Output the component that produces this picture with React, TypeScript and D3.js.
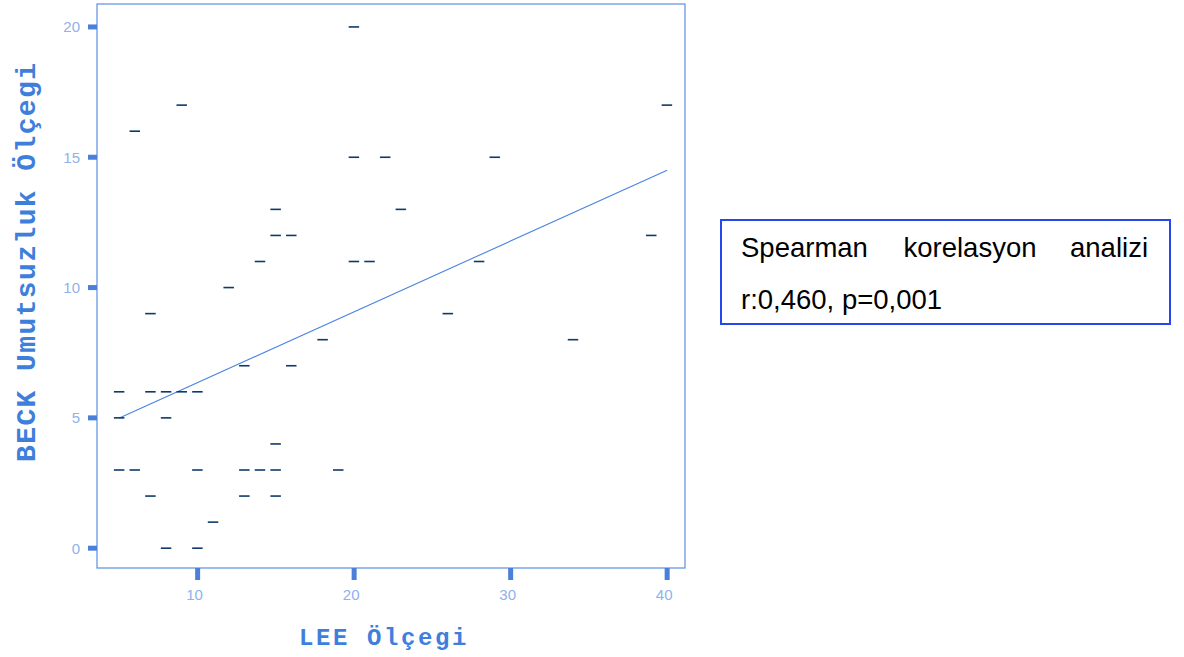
import React from "react";
import * as d3 from "d3";

// LEE Ölçegi (x) vs BECK Umutsuzluk Ölçegi (y)
const leeValues: number[] = [
  5, 5, 5, 6, 6, 7, 7, 7, 8, 8, 8, 9, 9, 10, 10, 10, 11, 12, 13, 13, 13, 14, 14,
  15, 15, 15, 15, 15, 16, 16, 18, 19, 20, 20, 20, 21, 22, 23, 26, 28, 29, 34, 39, 40,
];
const beckValues: number[] = [
  6, 5, 3, 16, 3, 9, 6, 2, 6, 5, 0, 17, 6, 6, 3, 0, 1, 10, 7, 3, 2, 11, 3,
  13, 12, 4, 3, 2, 12, 7, 8, 3, 20, 15, 11, 11, 15, 13, 9, 11, 15, 8, 12, 17,
];
// fitted line end points
const fitX: number[] = [5, 40];
const fitY: number[] = [5.0, 14.5];

const xTicks: number[] = [10, 20, 30, 40];
const yTicks: number[] = [0, 5, 10, 15, 20];

const xTitle = "LEE Ölçegi";
const yTitle = "BECK Umutsuzluk Ölçegi";
const legendLine1: string[] = ["Spearman", "korelasyon", "analizi"];
const legendLine2 = "r:0,460, p=0,001";

export default function App() {
  const W = 1184;
  const H = 657;
  const left = 97, right = 685, top = 4, bottom = 568;
  const x = d3.scaleLinear().domain([3.57, 41.14]).range([left, right]);
  const y = d3.scaleLinear().domain([-0.76, 20.88]).range([bottom, top]);

  const line = d3
    .line<number>()
    .x((_, i) => x(fitX[i]))
    .y((_, i) => y(fitY[i]));

  const tickColor = "#4a80dc";
  const labelColor = "#8db2ee";
  const titleColor = "#3f7fdc";
  const borderColor = "#5a8fe2";

  return (
    <svg
      width={W}
      height={H}
      style={{ position: "absolute", left: 0, top: 0, background: "#fff" }}
    >
      {/* plot frame */}
      <rect
        x={left}
        y={top}
        width={right - left}
        height={bottom - top}
        fill="none"
        stroke={borderColor}
        strokeWidth={1.2}
      />
      {/* y ticks */}
      {yTicks.map((t) => (
        <g key={"y" + t}>
          <line
            x1={left - 9}
            x2={left}
            y1={y(t)}
            y2={y(t)}
            stroke={tickColor}
            strokeWidth={5}
          />
          <text
            x={left - 17}
            y={y(t)}
            dy="0.36em"
            textAnchor="end"
            fontFamily="'Liberation Sans', Arial, sans-serif"
            fontSize={15}
            fill={labelColor}
          >
            {t}
          </text>
        </g>
      ))}
      {/* x ticks */}
      {xTicks.map((t) => (
        <g key={"x" + t}>
          <line
            x1={x(t)}
            x2={x(t)}
            y1={bottom}
            y2={bottom + 12}
            stroke={tickColor}
            strokeWidth={5}
          />
          <text
            x={x(t) - 3}
            y={600}
            textAnchor="middle"
            fontFamily="'Liberation Sans', Arial, sans-serif"
            fontSize={15}
            fill={labelColor}
          >
            {t}
          </text>
        </g>
      ))}
      {/* regression line */}
      <path d={line(fitX) || ""} fill="none" stroke="#4a84e0" strokeWidth={1.1} />
      {/* markers */}
      {leeValues.map((v, i) => (
        <line
          key={"m" + i}
          x1={x(v) - 5.5}
          x2={x(v) + 5}
          y1={y(beckValues[i])}
          y2={y(beckValues[i])}
          stroke="#0d3a6a"
          strokeWidth={1.6}
        />
      ))}
      {/* axis titles */}
      <text
        x={299}
        y={645}
        fontFamily="'Liberation Mono', 'Courier New', monospace"
        fontWeight="bold"
        fontSize={24}
        letterSpacing={2.6}
        fill={titleColor}
      >
        {xTitle}
      </text>
      <text
        transform={`translate(35, 462) rotate(-90)`}
        x={0}
        y={0}
        fontFamily="'Liberation Mono', 'Courier New', monospace"
        fontWeight="bold"
        fontSize={28}
        letterSpacing={1.4}
        fill={titleColor}
      >
        {yTitle}
      </text>
      {/* legend box */}
      <rect
        x={721}
        y={220}
        width={449}
        height={104}
        fill="#fff"
        stroke="#2447ee"
        strokeWidth={2}
      />
      <g
        fontFamily="'Liberation Sans', Arial, sans-serif"
        fontSize={27.5}
        fill="#000"
      >
        <text x={741} y={257} textAnchor="start">
          {legendLine1[0]}
        </text>
        <text x={970} y={257} textAnchor="middle">
          {legendLine1[1]}
        </text>
        <text x={1148} y={257} textAnchor="end">
          {legendLine1[2]}
        </text>
        <text x={741} y={309}>
          {legendLine2}
        </text>
      </g>
    </svg>
  );
}
